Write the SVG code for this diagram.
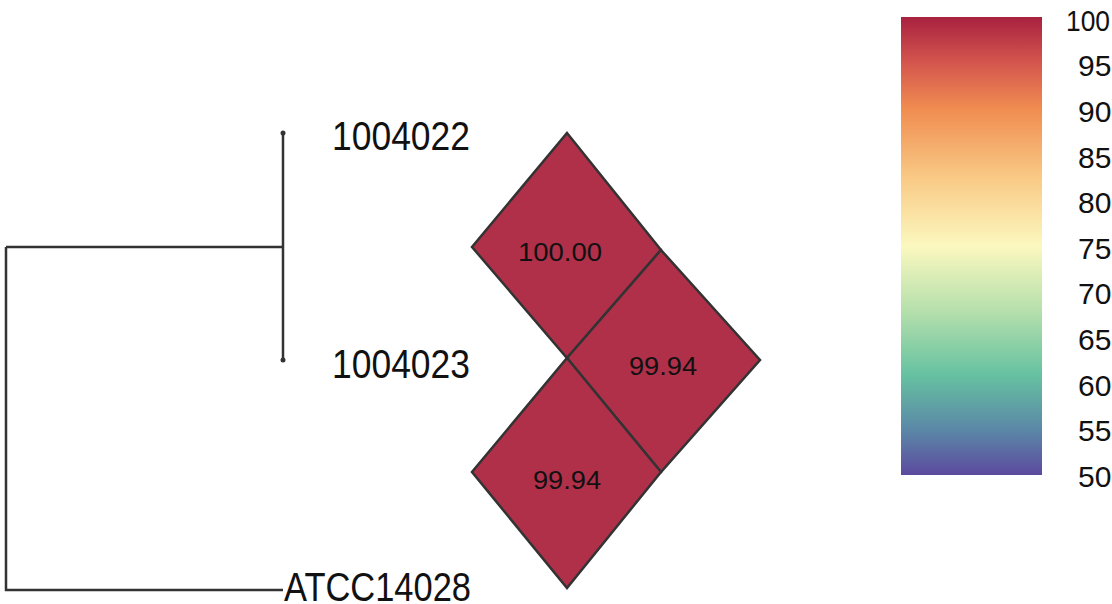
<svg xmlns="http://www.w3.org/2000/svg" width="1112" height="604" viewBox="0 0 1112 604">
<style>
.lbl{font-family:"Liberation Sans",Arial,sans-serif;font-size:40px;fill:#111}
.cell{fill:#b0304a;stroke:#333;stroke-width:2.5}
.val{font-family:"Liberation Sans",Arial,sans-serif;font-size:26px;fill:#111;text-anchor:middle}
.tick{font-family:"Liberation Sans",Arial,sans-serif;font-size:30px;fill:#111}
.br{stroke:#333;stroke-width:2.5;fill:none}
</style>
<defs>
<linearGradient id="g" x1="0" y1="0" x2="0" y2="1">
<stop offset="0" stop-color="#a8213f"/>
<stop offset="0.1" stop-color="#d4564e"/>
<stop offset="0.2" stop-color="#f08c50"/>
<stop offset="0.35" stop-color="#f9c985"/>
<stop offset="0.5" stop-color="#fbf8bf"/>
<stop offset="0.65" stop-color="#b1deab"/>
<stop offset="0.78" stop-color="#66c2a1"/>
<stop offset="0.9" stop-color="#5b88a7"/>
<stop offset="1" stop-color="#5c4a9e"/>
</linearGradient>
</defs>
<rect width="1112" height="604" fill="#fff"/>
<g id="connectors">
<path class="br" d="M283,133 V360 M6,247 H283 M6,247 V590 H283"/>
<circle cx="283" cy="133" r="2.5" fill="#333"/>
<circle cx="283" cy="360" r="2.5" fill="#333"/>
</g>
<g id="leaf-1004022"><text class="lbl" x="332" y="150" textLength="138" lengthAdjust="spacingAndGlyphs">1004022</text></g>
<g id="leaf-1004023"><text class="lbl" x="332" y="378" textLength="138" lengthAdjust="spacingAndGlyphs">1004023</text></g>
<g id="leaf-ATCC14028"><text class="lbl" x="284" y="601" font-size="36" textLength="187" lengthAdjust="spacingAndGlyphs">ATCC14028</text></g>
<g id="cell-1"><polygon class="cell" points="567,133 661,250 567,358 472,247"/><text class="val" x="560" y="261" textLength="84" lengthAdjust="spacingAndGlyphs">100.00</text></g>
<g id="cell-2"><polygon class="cell" points="661,250 760,360 661,472 567,358"/><text class="val" x="663" y="375" textLength="68" lengthAdjust="spacingAndGlyphs">99.94</text></g>
<g id="cell-3"><polygon class="cell" points="567,358 661,472 567,588 472,472"/><text class="val" x="567" y="489" textLength="68" lengthAdjust="spacingAndGlyphs">99.94</text></g>
<g id="legend">
<rect x="901" y="17" width="141" height="458" fill="url(#g)"/>
<text class="tick" x="1066" y="31" textLength="44" lengthAdjust="spacingAndGlyphs">100</text>
<text class="tick" x="1078" y="76">95</text>
<text class="tick" x="1078" y="122">90</text>
<text class="tick" x="1078" y="168">85</text>
<text class="tick" x="1078" y="213">80</text>
<text class="tick" x="1078" y="259">75</text>
<text class="tick" x="1078" y="304">70</text>
<text class="tick" x="1078" y="350">65</text>
<text class="tick" x="1078" y="396">60</text>
<text class="tick" x="1078" y="441">55</text>
<text class="tick" x="1078" y="487">50</text>
</g>
</svg>
